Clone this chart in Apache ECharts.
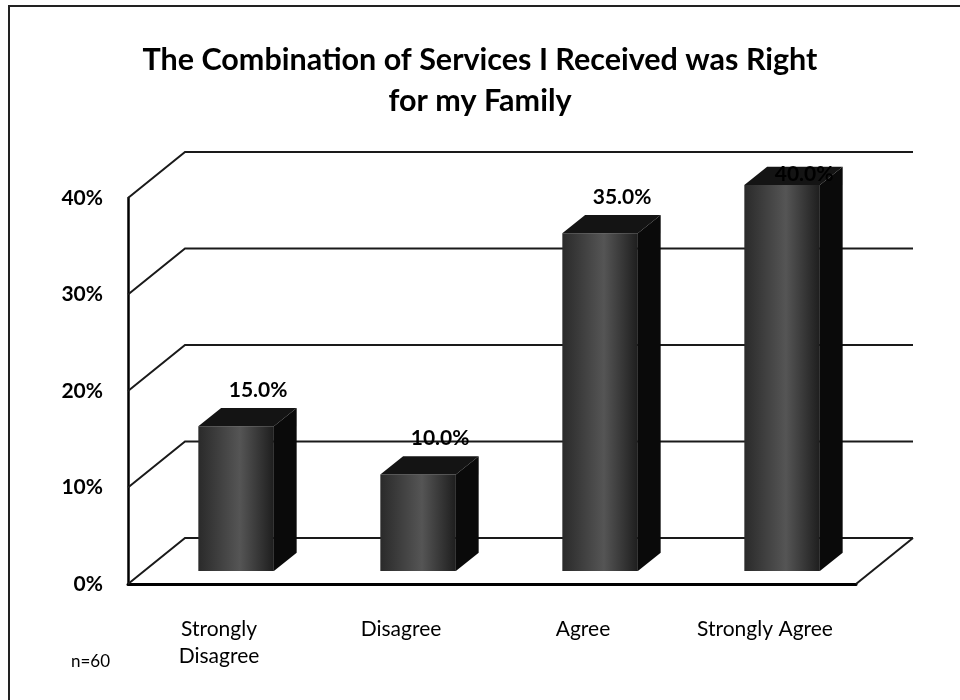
<!DOCTYPE html>
<html>
<head>
<meta charset="utf-8">
<title>Services chart</title>
<script src="https://cdn.jsdelivr.net/npm/echarts@6/dist/echarts.min.js"></script>
<style>
  html, body { margin: 0; padding: 0; background: #fff; }
  #chart { width: 960px; height: 700px; }
</style>
</head>
<body>
<div id="chart"></div>
<script type="text/javascript">
	// data
	var categories = ['Strongly\nDisagree', 'Disagree', 'Agree', 'Strongly Agree'];
	var percents = [15.0, 10.0, 35.0, 40.0];
	var gridTicks = [0, 10, 20, 30, 40];
	var titleText = 'The Combination of Services I Received was Right\nfor my Family';
	var noteText = 'n=60';

	// depth of the 3d box (front plane -> back wall)
	var DX = 57, DY = -46;
	var FONT = 'Lato, "Open Sans", sans-serif';

	var myChart = echarts.init(document.getElementById('chart'));

	// back wall + left wall + floor lines
	function renderWalls(params, api) {
		var v = api.value(1);
		var y = api.coord([0, v])[1];
		var xl = params.coordSys.x;
		var xr = xl + params.coordSys.width;
		var kids = [{
			type: 'polyline',
			shape: { points: [[xl, y], [xl + DX, y + DY], [xr + DX, y + DY]] },
			style: { stroke: '#1a1a1a', lineWidth: 2, fill: null }
		}];
		if (v === 0) {
			kids.push({
				type: 'line',
				shape: { x1: xr, y1: y, x2: xr + DX, y2: y + DY },
				style: { stroke: '#1a1a1a', lineWidth: 2 }
			});
		}
		return { type: 'group', children: kids };
	}

	// 3d looking bar
	function renderBar(params, api) {
		var i = api.value(0), v = api.value(1);
		var top = api.coord([i, v]);
		var base = api.coord([i, 0]);
		var bw = api.size([1, 0])[0] * 0.415;
		var fx = 0.30 * DX, fy = 0.28 * DY;   // front face pushed into depth
		var bx = 0.40 * DX, by = 0.40 * DY;   // bar depth
		var x0 = top[0] - bw / 2 + fx, x1 = x0 + bw;
		var yt = top[1] + fy, yb = base[1] + fy;
		var ly = Math.max(yt - 36, 174);
		return {
			type: 'group',
			children: [
				{
					type: 'rect',
					shape: { x: x0, y: yt, width: bw, height: yb - yt },
					style: {
						fill: new echarts.graphic.LinearGradient(0, 0, 1, 0, [
							{ offset: 0, color: '#2a2a2a' },
							{ offset: 0.55, color: '#555555' },
							{ offset: 1, color: '#1e1e1e' }
						])
					}
				},
				{
					type: 'polygon',
					shape: { points: [[x0, yt], [x0 + bx, yt + by], [x1 + bx, yt + by], [x1, yt]] },
					style: { fill: '#141414' }
				},
				{
					type: 'polygon',
					shape: { points: [[x1, yt], [x1 + bx, yt + by], [x1 + bx, yb + by], [x1, yb]] },
					style: { fill: '#0a0a0a' }
				},
				{
					type: 'text',
					style: {
						text: v.toFixed(1) + '%',
						x: (x0 + x1) / 2 + 22,
						y: ly,
						align: 'center',
						verticalAlign: 'middle',
						fill: '#000',
						font: 'bold 21px ' + FONT
					}
				}
			]
		};
	}

	option = {
		backgroundColor: '#fff',
		animation: false,
		title: {
			text: titleText,
			left: 'center',
			top: 35,
			textStyle: {
				fontFamily: FONT,
				fontSize: 30.5,
				fontWeight: 'bold',
				color: '#000',
				lineHeight: 41
			}
		},
		graphic: [
			{
				type: 'rect',
				shape: { x: 9, y: 6, width: 980, height: 720 },
				style: { fill: null, stroke: '#222', lineWidth: 2 }
			},
			{
				type: 'text',
				left: 71,
				top: 653,
				style: { text: noteText, fill: '#000', font: '17px ' + FONT }
			}
		],
		grid: {
			left: 128,
			right: 104,
			top: 198,
			bottom: 116,
			containLabel: false
		},
		xAxis: {
			type: 'category',
			data: categories,
			axisLine: { show: true, lineStyle: { color: '#000', width: 3 } },
			axisTick: { show: false },
			axisLabel: {
				interval: 0,
				hideOverlap: false,
				margin: 32,
				color: '#000',
				fontFamily: FONT,
				fontSize: 21,
				lineHeight: 27
			},
			splitLine: { show: false }
		},
		yAxis: {
			type: 'value',
			min: 0,
			max: 40,
			interval: 10,
			axisLine: { show: true, lineStyle: { color: '#000', width: 2.5 } },
			axisTick: { show: false },
			splitLine: { show: false },
			axisLabel: {
				margin: 25,
				color: '#000',
				fontFamily: FONT,
				fontSize: 21,
				fontWeight: 'bold',
				formatter: '{value}%'
			}
		},
		series: [
			{
				name: 'walls',
				type: 'custom',
				renderItem: renderWalls,
				data: gridTicks.map(function (v) { return [0, v]; }),
				z: 1,
				silent: true
			},
			{
				name: 'percent',
				type: 'custom',
				renderItem: renderBar,
				data: percents.map(function (v, i) { return [i, v]; }),
				z: 3
			}
		]
	};
	myChart.setOption(option);
</script>
</body>
</html>
